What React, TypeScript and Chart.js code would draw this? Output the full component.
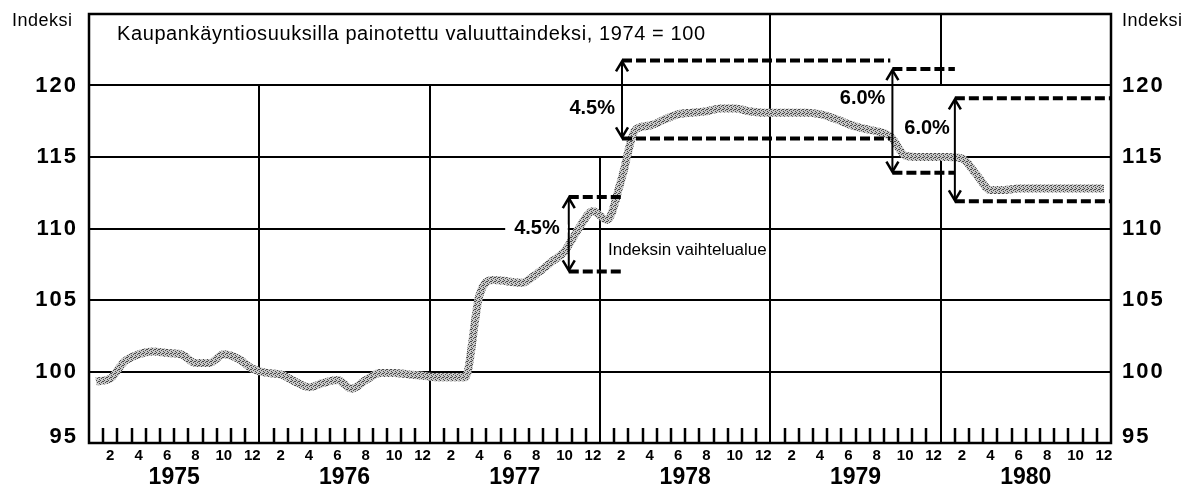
import React, { useEffect, useRef } from 'react';
import { Chart, registerables } from 'chart.js';

Chart.register(...registerables);

// ---- data ----
const years = ['1975', '1976', '1977', '1978', '1979', '1980'];
const monthTickLabels = ['2', '4', '6', '8', '10', '12'];
const monthTickMonths = [2, 4, 6, 8, 10, 12];
const yTickValues = [95, 100, 105, 110, 115, 120];

const v1975 = [99.3, 99.5, 100.7, 101.2, 101.4, 101.3, 101.2, 100.6, 100.6, 101.2, 100.9, 100.2];
const v1976 = [99.9, 99.8, 99.3, 98.9, 99.2, 99.4, 98.8, 99.4, 99.9, 99.9, 99.8, 99.7];
const v1977 = [99.6, 99.6, 99.6, 105.3, 106.4, 106.3, 106.2, 106.8, 107.6, 108.4, 110.0, 111.2];
const v1978 = [110.6, 113.4, 116.9, 117.2, 117.6, 118.0, 118.1, 118.2, 118.4, 118.4, 118.2, 118.1];
const v1979 = [118.1, 118.1, 118.1, 118.0, 117.7, 117.3, 117.0, 116.8, 116.4, 115.1, 115.0, 115.0];
const v1980 = [115.0, 114.9, 113.8, 112.7, 112.7, 112.8, 112.8, 112.8, 112.8, 112.8, 112.8, 112.8];

// fluctuation bands (months since Jan 1975, index values)
const bandStart = [33.8, 37.55, 56.6, 61.0];
const bandEnd = [37.6, 56.45, 61.0, 72.0];
const bandLow = [107.0, 116.3, 113.9, 111.9];
const bandHigh = [112.2, 121.75, 121.15, 119.1];
const bandLabels = ['4.5%', '4.5%', '6.0%', '6.0%'];

const titleText = 'Kaupankäyntiosuuksilla painotettu valuuttaindeksi, 1974 = 100';
const axisTitle = 'Indeksi';
const bandNote = 'Indeksin vaihtelualue';

const FONT = '"Liberation Sans", Arial, Helvetica, sans-serif';

export default function App() {
  const ref = useRef<HTMLCanvasElement | null>(null);

  useEffect(() => {
    const canvas = ref.current;
    if (!canvas) return;

    const all = [...v1975, ...v1976, ...v1977, ...v1978, ...v1979, ...v1980];
    const points = all.map((v, i) => ({ x: i + 0.5, y: v }));

    // stipple pattern for the thick grey line
    const pc = document.createElement('canvas');
    pc.width = 4;
    pc.height = 4;
    const pctx = pc.getContext('2d')!;
    pctx.fillStyle = '#c8c8c8';
    pctx.fillRect(0, 0, 4, 4);
    pctx.fillStyle = '#4a4a4a';
    [[0, 0], [2, 1], [1, 2], [3, 3], [3, 1]].forEach(([a, b]) => pctx.fillRect(a, b, 1, 1));
    const ctx0 = canvas.getContext('2d')!;
    const pattern = ctx0.createPattern(pc, 'repeat');

    // label anchors (in data units) for the annotations
    const bandLabelY = [110, 118.4, 119.1, 117.0];
    const bandLabelGap = [9, 7, 7, 5];

    const decor = {
      id: 'decor',
      beforeDatasetsDraw(chart: any) {
        const { ctx, chartArea: ca, scales } = chart;
        const xs = scales.x;
        const ys = scales.y;
        ctx.save();
        ctx.fillStyle = '#ffffff';
        ctx.fillRect(0, 0, chart.width, chart.height);
        ctx.strokeStyle = '#000';
        ctx.lineCap = 'butt';

        // horizontal grid
        ctx.lineWidth = 2;
        [100, 105, 110, 115, 120].forEach((v) => {
          const y = Math.round(ys.getPixelForValue(v));
          ctx.beginPath();
          ctx.moveTo(ca.left, y);
          ctx.lineTo(ca.right, y);
          ctx.stroke();
        });

        // year boundaries (partial lines as in the original)
        const segs: [number, number, number][] = [
          [12, 95, 120],
          [24, 95, 120],
          [36, 95, 115],
          [48, 95, 125],
          [60, 95, 115],
          [60, 120, 125],
        ];
        ctx.lineWidth = 2;
        segs.forEach(([m, a, b]) => {
          const x = Math.round(xs.getPixelForValue(m));
          ctx.beginPath();
          ctx.moveTo(x, ys.getPixelForValue(a));
          ctx.lineTo(x, ys.getPixelForValue(b));
          ctx.stroke();
        });

        // month ticks
        ctx.lineWidth = 2.5;
        for (let k = 1; k < 72; k++) {
          if (k % 12 === 0) continue;
          const x = Math.round(xs.getPixelForValue(k));
          ctx.beginPath();
          ctx.moveTo(x, ca.bottom);
          ctx.lineTo(x, ca.bottom - 15);
          ctx.stroke();
        }

        // frame
        ctx.lineWidth = 2.5;
        ctx.strokeRect(ca.left, ca.top, ca.right - ca.left, ca.bottom - ca.top);

        // axis texts
        ctx.fillStyle = '#000';
        ctx.textBaseline = 'middle';
        ctx.font = `bold 22px ${FONT}`;
        (ctx as any).letterSpacing = '2px';
        yTickValues.forEach((v) => {
          let y = ys.getPixelForValue(v);
          if (v === 95) y -= 6;
          ctx.textAlign = 'right';
          ctx.fillText(String(v), ca.left - 11, y);
          ctx.textAlign = 'left';
          ctx.fillText(String(v), ca.right + 11, y);
        });

        ctx.font = `18px ${FONT}`;
        (ctx as any).letterSpacing = '0.5px';
        ctx.textAlign = 'left';
        ctx.fillText(axisTitle, 12, 21);
        ctx.fillText(axisTitle, ca.right + 11, 21);
        (ctx as any).letterSpacing = '0px';

        // month labels
        ctx.font = `bold 15px ${FONT}`;
        ctx.textAlign = 'center';
        years.forEach((yr, yi) => {
          monthTickMonths.forEach((m, mi) => {
            const x = xs.getPixelForValue(yi * 12 + m - 0.5);
            ctx.fillText(monthTickLabels[mi], x, ca.bottom + 13);
          });
        });
        ctx.font = `bold 23px ${FONT}`;
        years.forEach((yr, yi) => {
          const x = xs.getPixelForValue(yi * 12 + 6);
          ctx.fillText(yr, x, ca.bottom + 35);
        });

        // title
        ctx.font = `20px ${FONT}`;
        (ctx as any).letterSpacing = '0.6px';
        ctx.textAlign = 'left';
        ctx.fillText(titleText, 117, 34);
        (ctx as any).letterSpacing = '0px';
        ctx.restore();
      },
      afterDatasetsDraw(chart: any) {
        const { ctx, scales } = chart;
        const xs = scales.x;
        const ys = scales.y;
        ctx.save();
        ctx.strokeStyle = '#000';
        ctx.fillStyle = '#000';

        bandStart.forEach((s, i) => {
          const x0 = xs.getPixelForValue(s);
          const x1 = xs.getPixelForValue(bandEnd[i]);
          const yH = ys.getPixelForValue(bandHigh[i]);
          const yL = ys.getPixelForValue(bandLow[i]);

          // dashed limits
          ctx.lineWidth = 4;
          ctx.setLineDash([10, 4]);
          ctx.beginPath();
          ctx.moveTo(x0, yH);
          ctx.lineTo(x1, yH);
          ctx.moveTo(x0, yL);
          ctx.lineTo(x1, yL);
          ctx.stroke();
          ctx.setLineDash([]);

          // double arrow
          ctx.lineWidth = 2;
          ctx.beginPath();
          ctx.moveTo(x0, yH + 1);
          ctx.lineTo(x0, yL - 1);
          ctx.stroke();
          ctx.lineWidth = 2.5;
          ctx.beginPath();
          ctx.moveTo(x0 - 6, yH + 11);
          ctx.lineTo(x0, yH + 1);
          ctx.lineTo(x0 + 6, yH + 11);
          ctx.moveTo(x0 - 6, yL - 11);
          ctx.lineTo(x0, yL - 1);
          ctx.lineTo(x0 + 6, yL - 11);
          ctx.stroke();

          // label
          ctx.font = `bold 20px ${FONT}`;
          ctx.textAlign = 'right';
          ctx.textBaseline = 'middle';
          const ly = ys.getPixelForValue(bandLabelY[i]);
          const lx = x0 - bandLabelGap[i];
          const w = ctx.measureText(bandLabels[i]).width;
          if (i === 0) {
            ctx.fillStyle = '#fff';
            ctx.fillRect(lx - w - 9, ly - 4, w + 9 + bandLabelGap[i] - 1, 8);
            ctx.fillStyle = '#000';
          }
          ctx.fillText(bandLabels[i], lx, ly);
        });

        ctx.font = `17px ${FONT}`;
        ctx.textAlign = 'left';
        ctx.textBaseline = 'middle';
        ctx.fillText(bandNote, xs.getPixelForValue(36.56), ys.getPixelForValue(108.5));
        ctx.restore();
      },
    };

    const chart = new Chart(canvas, {
      type: 'line',
      data: {
        datasets: [
          {
            data: points,
            borderColor: pattern as any,
            borderWidth: 8,
            pointRadius: 0,
            cubicInterpolationMode: 'monotone',
            borderCapStyle: 'butt',
            borderJoinStyle: 'round',
            fill: false,
          },
        ],
      },
      options: {
        responsive: false,
        animation: false,
        devicePixelRatio: 1,
        layout: { padding: { left: 89, top: 14, right: 80, bottom: 45 } },
        scales: {
          x: { type: 'linear', min: 0, max: 72, display: false },
          y: { type: 'linear', min: 95, max: 125, display: false },
        },
        plugins: { legend: { display: false }, tooltip: { enabled: false } },
      },
      plugins: [decor],
    });

    return () => chart.destroy();
  }, []);

  return (
    <div style={{ position: 'absolute', left: 0, top: 0, width: 1191, height: 488, background: '#fff' }}>
      <canvas ref={ref} width={1191} height={488} style={{ display: 'block' }} />
    </div>
  );
}
